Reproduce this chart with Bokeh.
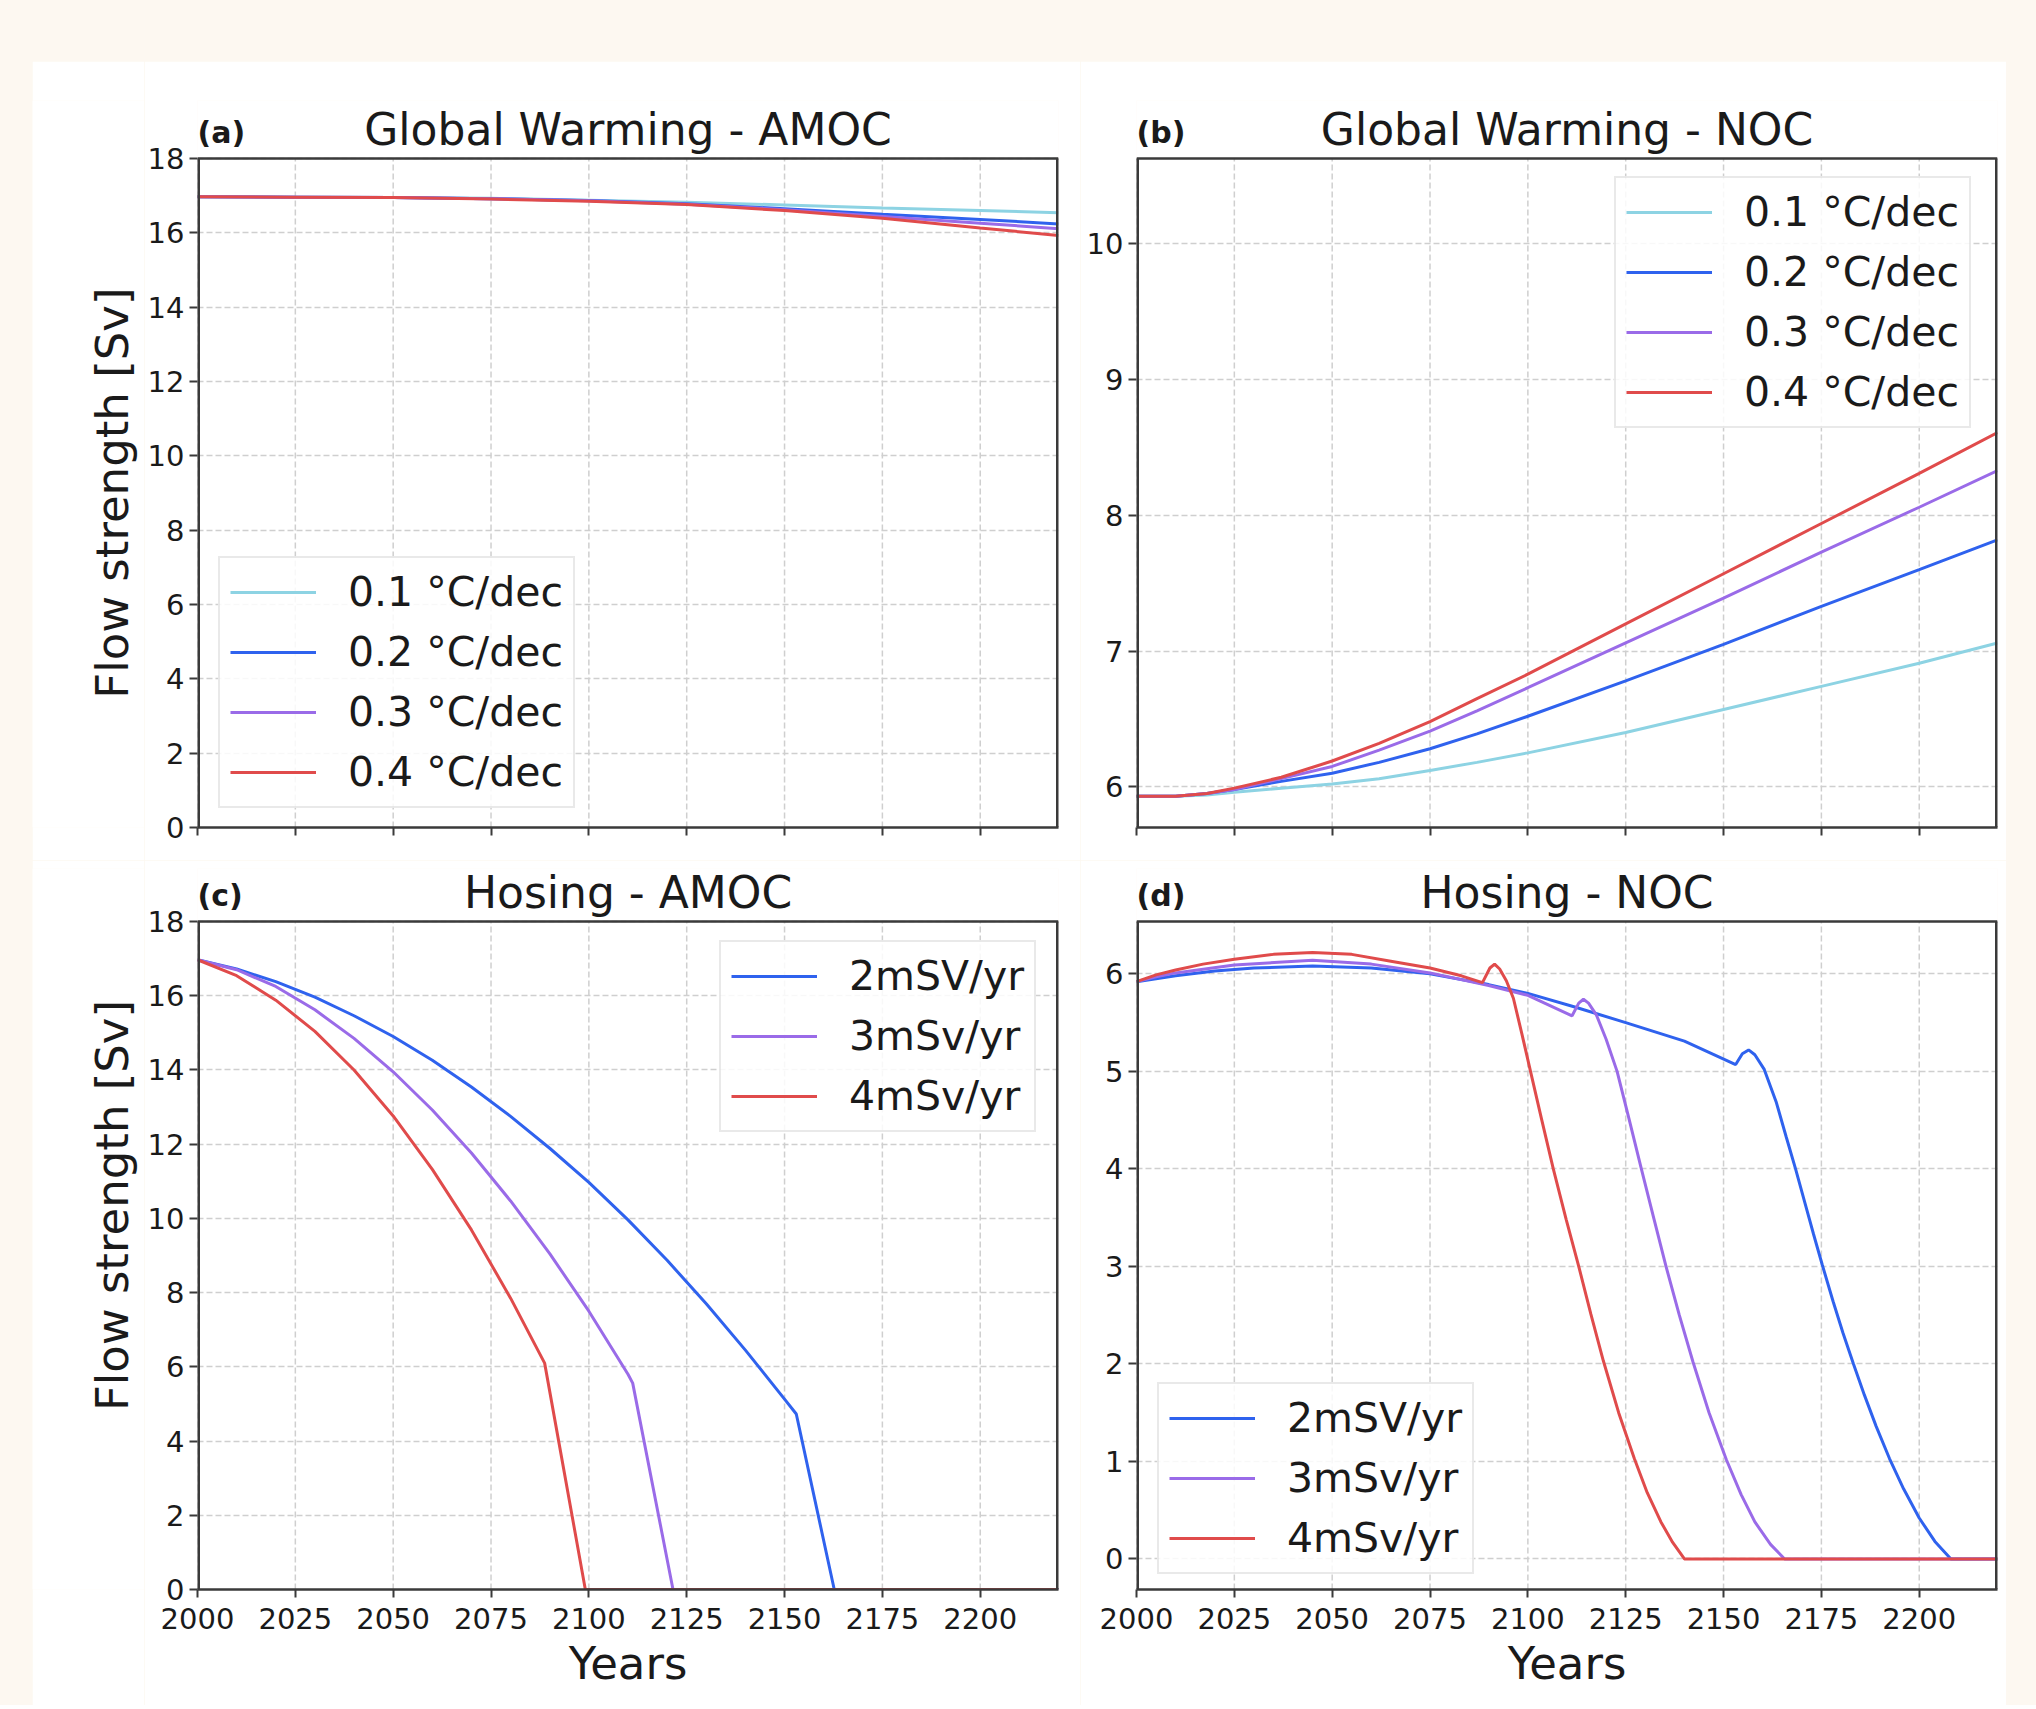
import math
from bokeh.plotting import figure
from bokeh.models import Legend, LegendItem, Range1d, FixedTicker, Spacer
from bokeh.layouts import row, column
from bokeh.core.properties import value
from bokeh.embed import file_html
from bokeh.resources import INLINE

# ---------------- data ----------------
x_ticks = [2000, 2025, 2050, 2075, 2100, 2125, 2150, 2175, 2200]
x_start, x_end = 2000, 2220

# (a) Global warming - AMOC
gw_amoc_years = [2000, 2025, 2050, 2075, 2100, 2125, 2150, 2175, 2200, 2220]
gw_amoc_01 = [16.97, 16.96, 16.95, 16.93, 16.88, 16.82, 16.75, 16.67, 16.60, 16.54]
gw_amoc_02 = [16.97, 16.96, 16.95, 16.92, 16.87, 16.78, 16.65, 16.50, 16.36, 16.24]
gw_amoc_03 = [16.97, 16.96, 16.95, 16.92, 16.86, 16.77, 16.62, 16.44, 16.26, 16.11]
gw_amoc_04 = [16.97, 16.96, 16.95, 16.91, 16.85, 16.76, 16.60, 16.39, 16.13, 15.93]

# (b) Global warming - NOC
gw_noc_years = [2000, 2010, 2018, 2025, 2037, 2050, 2062, 2075, 2087, 2100, 2125, 2150, 2175, 2200, 2220]
gw_noc_01 = [5.93, 5.93, 5.94, 5.96, 5.99, 6.02, 6.06, 6.12, 6.18, 6.25, 6.40, 6.57, 6.74, 6.91, 7.06]
gw_noc_02 = [5.93, 5.93, 5.95, 5.98, 6.04, 6.10, 6.18, 6.28, 6.39, 6.52, 6.78, 7.05, 7.33, 7.60, 7.82]
gw_noc_03 = [5.93, 5.93, 5.95, 5.98, 6.06, 6.15, 6.27, 6.41, 6.56, 6.73, 7.06, 7.39, 7.73, 8.06, 8.33]
gw_noc_04 = [5.93, 5.93, 5.95, 5.99, 6.07, 6.19, 6.32, 6.48, 6.65, 6.83, 7.20, 7.57, 7.94, 8.31, 8.61]

# (c) Hosing - AMOC
hos_amoc_2_years = [2000, 2010, 2020, 2030, 2040, 2050, 2060, 2070, 2080, 2090, 2100, 2110, 2120,
                    2130, 2140, 2150, 2153, 2162.7, 2220]
hos_amoc_2 = [16.97, 16.72, 16.38, 15.96, 15.46, 14.90, 14.26, 13.54, 12.75, 11.89, 10.97, 9.96, 8.87,
              7.70, 6.45, 5.13, 4.73, 0.0, 0.0]
hos_amoc_3_years = [2000, 2010, 2020, 2030, 2040, 2050, 2060, 2070, 2080, 2090, 2100, 2110, 2111.2,
                    2121.5, 2220]
hos_amoc_3 = [16.97, 16.70, 16.25, 15.62, 14.85, 13.95, 12.92, 11.76, 10.47, 9.05, 7.50, 5.80, 5.56,
              0.0, 0.0]
hos_amoc_4_years = [2000, 2010, 2020, 2030, 2040, 2050, 2060, 2070, 2080, 2088.7, 2099.1, 2220]
hos_amoc_4 = [16.97, 16.54, 15.88, 15.04, 14.00, 12.76, 11.32, 9.69, 7.85, 6.10, 0.0, 0.0]

# (d) Hosing - NOC
hos_noc_2_years = [2000, 2010, 2020, 2030, 2045, 2060, 2075, 2090, 2100, 2112, 2125, 2140, 2153.1, 2154.8,
                   2156.4, 2158, 2160.4, 2163.5, 2166, 2168.4, 2171, 2173, 2175.2, 2178, 2180.5, 2183.2,
                   2186, 2189, 2192.4, 2196, 2200, 2204, 2208.1, 2220]
hos_noc_2 = [5.92, 5.98, 6.03, 6.06, 6.08, 6.06, 6.00, 5.89, 5.80, 5.66, 5.50, 5.31, 5.07, 5.18,
             5.22, 5.17, 5.02, 4.68, 4.33, 4.00, 3.62, 3.33, 3.02, 2.64, 2.32, 2.00,
             1.68, 1.36, 1.03, 0.72, 0.42, 0.18, 0.0, 0.0]
hos_noc_3_years = [2000, 2005, 2010, 2025, 2045, 2060, 2075, 2090, 2100, 2111.3, 2113, 2114.2, 2115.5,
                   2117.5, 2120, 2122.8, 2125.8, 2129, 2132.2, 2135.3, 2138.7, 2142.2, 2146.3, 2150.7,
                   2154.5, 2158, 2162, 2165.6, 2220]
hos_noc_3 = [5.92, 5.97, 6.01, 6.09, 6.14, 6.10, 6.01, 5.88, 5.78, 5.57, 5.70, 5.74, 5.70,
             5.58, 5.33, 5.00, 4.52, 4.00, 3.49, 3.00, 2.50, 2.02, 1.50, 1.02,
             0.66, 0.38, 0.15, 0.0, 0.0]
hos_noc_4_years = [2000, 2005, 2010, 2017, 2025, 2035, 2045, 2055, 2065, 2075, 2083, 2088.4, 2090.3,
                   2091.5, 2092.8, 2094.5, 2096.3, 2098.5, 2100.5, 2103.5, 2106.5, 2109.8, 2113, 2116.1,
                   2119.3, 2123.2, 2127.2, 2130.5, 2134, 2137, 2140, 2220]
hos_noc_4 = [5.92, 5.99, 6.04, 6.10, 6.15, 6.20, 6.22, 6.20, 6.13, 6.06, 5.98, 5.91, 6.06,
             6.10, 6.05, 5.93, 5.75, 5.38, 5.03, 4.51, 4.00, 3.48, 3.00, 2.51,
             2.03, 1.50, 1.03, 0.68, 0.38, 0.17, 0.0, 0.0]

gw_labels = ["0.1 °C/dec", "0.2 °C/dec", "0.3 °C/dec", "0.4 °C/dec"]
hos_labels = ["2mSV/yr", "3mSv/yr", "4mSv/yr"]
titles = ["Global Warming - AMOC", "Global Warming - NOC", "Hosing - AMOC", "Hosing - NOC"]
tags = ["(a)", "(b)", "(c)", "(d)"]
y_label = "Flow strength [Sv]"

# ---------------- style / layout ----------------
CREAM = "#fdf8f1"
LIGHT = "#8dd3e3"
BLUE = "#2f62ee"
PURPLE = "#9a6be8"
RED = "#e04b4b"
SPINE = "#3a3a3a"
GRID = "#cfcfcf"
TXT = "#1a1a1a"
FONT = "DejaVu Sans"

YLAB_W = 112                 # strip holding the rotated y-axis label
LEFT_W, RIGHT_W = 936, 926
LEFT_BORDER_A, LEFT_BORDER_B = 53, 56
TOP_H, BOT_H = 799, 845


def make_panel(width, height, left, right, top, bottom, ylo, yhi, box_px, extra_px,
               yticks, show_xlabels, title, tag):
    scale = box_px / (yhi - ylo)          # screen px per data unit
    ytop = yhi + extra_px / scale         # frame extends above the data box to hold the title
    p = figure(width=width, height=height, x_range=Range1d(x_start, x_end), y_range=Range1d(ylo, ytop),
               output_backend="svg", toolbar_location=None,
               min_border_left=left, min_border_right=right,
               min_border_top=top, min_border_bottom=bottom)
    p.title.text = ""
    p.border_fill_color = "white"
    p.background_fill_color = "white"
    p.outline_line_color = None
    p.xaxis.ticker = FixedTicker(ticks=x_ticks)
    p.yaxis.ticker = FixedTicker(ticks=yticks)
    for ax in (p.xaxis[0], p.yaxis[0]):
        ax.axis_line_color = SPINE
        ax.axis_line_width = 2.5
        ax.major_tick_line_color = SPINE
        ax.major_tick_line_width = 2
        ax.major_tick_out = 8
        ax.major_tick_in = 0
        ax.minor_tick_line_color = None
        ax.major_label_text_font = FONT
        ax.major_label_text_font_size = "29px"
        ax.major_label_text_color = TXT
        ax.axis_label_text_font = FONT
        ax.axis_label_text_font_size = "45px"
        ax.axis_label_text_font_style = "normal"
        ax.axis_label_text_color = TXT
    p.yaxis.axis_line_color = None
    p.yaxis.major_label_standoff = 5
    if show_xlabels:
        p.xaxis.axis_label = "Years"
        p.xaxis.major_label_standoff = 10
        p.xaxis.axis_label_standoff = 5
    else:
        p.xaxis.major_label_overrides = {t: "" for t in x_ticks}
        p.xaxis.major_label_standoff = 0
    # horizontal grid from the axis ticker, vertical grid limited to the data box
    p.xgrid.visible = False
    p.ygrid.grid_line_color = GRID
    p.ygrid.grid_line_dash = "6 3"
    p.ygrid.grid_line_width = 1.5
    n = len(x_ticks)
    p.segment(x0=x_ticks, y0=[ylo] * n, x1=x_ticks, y1=[yhi] * n, line_color=GRID,
              line_dash="6 3", line_width=1.5, level="underlay")
    # titles (inside the extended frame, above the box)
    p.text(x=[(x_start + x_end) / 2], y=[yhi + 29 / scale], text=[title], text_align="center",
           text_baseline="middle", text_font=value(FONT), text_font_size=value("44px"),
           text_color=TXT)
    p.text(x=[x_start], y=[yhi + 26 / scale], text=[tag], text_align="left",
           text_baseline="middle", text_font=value(FONT), text_font_size=value("30px"),
           text_font_style="bold", text_color=TXT)
    return p


def make_ylabel_strip(height, center_from_top):
    s = figure(width=YLAB_W, height=height, x_range=Range1d(0, YLAB_W), y_range=Range1d(0, height),
               x_axis_type=None, y_axis_type=None, output_backend="svg", toolbar_location=None,
               min_border=0)
    s.title.text = ""
    s.outline_line_color = None
    s.border_fill_color = "white"
    s.background_fill_color = "white"
    s.xgrid.visible = False
    s.ygrid.visible = False
    s.text(x=[80], y=[height - center_from_top], text=[y_label], angle=math.pi / 2,
           text_align="center", text_baseline="middle", text_font=value(FONT),
           text_font_size=value("45px"), text_color=TXT)
    return s


def add_spines(p, ylo, yhi):
    p.segment(x0=[x_start], y0=[yhi], x1=[x_end], y1=[yhi], line_color=SPINE, line_width=2.5)
    p.segment(x0=[x_start, x_end], y0=[ylo, ylo], x1=[x_start, x_end], y1=[yhi, yhi],
              line_color=SPINE, line_width=5)


def add_legend(p, items, loc):
    lg = Legend(items=items, location=loc)
    lg.label_text_font = FONT
    lg.label_text_font_size = "41px"
    lg.label_text_color = TXT
    lg.glyph_width = 86
    lg.glyph_height = 48
    lg.label_height = 48
    lg.spacing = 12
    lg.padding = 10
    lg.margin = 0
    lg.label_standoff = 32
    lg.border_line_color = "#d3d3d3"
    lg.border_line_width = 2
    lg.background_fill_color = "white"
    lg.background_fill_alpha = 0.85
    p.add_layout(lg)


# (a)
a_lo, a_hi = 0, 18
pa = make_panel(LEFT_W, TOP_H, LEFT_BORDER_A, 22, 39, 33, a_lo, a_hi, 669, 58,
                list(range(0, 19, 2)), False, titles[0], tags[0])
ra = [pa.line(gw_amoc_years, v, line_color=c, line_width=3)
      for v, c in zip([gw_amoc_01, gw_amoc_02, gw_amoc_03, gw_amoc_04], [LIGHT, BLUE, PURPLE, RED])]
add_spines(pa, a_lo, a_hi)
add_legend(pa, [LegendItem(label=l, renderers=[r]) for l, r in zip(gw_labels, ra)], (21, 19))

# (b)
b_lo, b_hi = 5.70, 10.63
pb = make_panel(RIGHT_W, TOP_H, LEFT_BORDER_B, 9, 39, 33, b_lo, b_hi, 669, 58,
                [6, 7, 8, 9, 10], False, titles[1], tags[1])
rb = [pb.line(gw_noc_years, v, line_color=c, line_width=3)
      for v, c in zip([gw_noc_01, gw_noc_02, gw_noc_03, gw_noc_04], [LIGHT, BLUE, PURPLE, RED])]
add_spines(pb, b_lo, b_hi)
add_legend(pb, [LegendItem(label=l, renderers=[r]) for l, r in zip(gw_labels, rb)], (478, 399))

# (c)
c_lo, c_hi = 0, 18
pc = make_panel(LEFT_W, BOT_H, LEFT_BORDER_A, 22, 8, 116, c_lo, c_hi, 668, 53,
                list(range(0, 19, 2)), True, titles[2], tags[2])
rc = [pc.line(x, v, line_color=c, line_width=3)
      for x, v, c in zip([hos_amoc_2_years, hos_amoc_3_years, hos_amoc_4_years],
                         [hos_amoc_2, hos_amoc_3, hos_amoc_4], [BLUE, PURPLE, RED])]
add_spines(pc, c_lo, c_hi)
add_legend(pc, [LegendItem(label=l, renderers=[r]) for l, r in zip(hos_labels, rc)], (522, 457))

# (d)
d_lo, d_hi = -0.313, 6.537
pd_ = make_panel(RIGHT_W, BOT_H, LEFT_BORDER_B, 9, 8, 116, d_lo, d_hi, 668, 53,
                 [0, 1, 2, 3, 4, 5, 6], True, titles[3], tags[3])
rd = [pd_.line(x, v, line_color=c, line_width=3)
      for x, v, c in zip([hos_noc_2_years, hos_noc_3_years, hos_noc_4_years],
                         [hos_noc_2, hos_noc_3, hos_noc_4], [BLUE, PURPLE, RED])]
add_spines(pd_, d_lo, d_hi)
add_legend(pd_, [LegendItem(label=l, renderers=[r]) for l, r in zip(hos_labels, rd)], (21, 15))

# y-label strips: centred on each data box (box centre measured from strip top)
ylab_a = make_ylabel_strip(TOP_H, 39 + 58 + 669 / 2)
ylab_c = make_ylabel_strip(BOT_H, 8 + 53 + 668 / 2)

content = column(row(ylab_a, pa, pb), row(ylab_c, pc, pd_))
bg = {"background-color": CREAM}
total_h = TOP_H + BOT_H
layout = column(
    Spacer(width=2036, height=61, styles=bg),
    row(Spacer(width=32, height=total_h, styles=bg), content,
        Spacer(width=30, height=total_h, styles=bg), styles=bg),
    styles=bg,
)

open("out.html", "w").write(file_html(layout, INLINE))
